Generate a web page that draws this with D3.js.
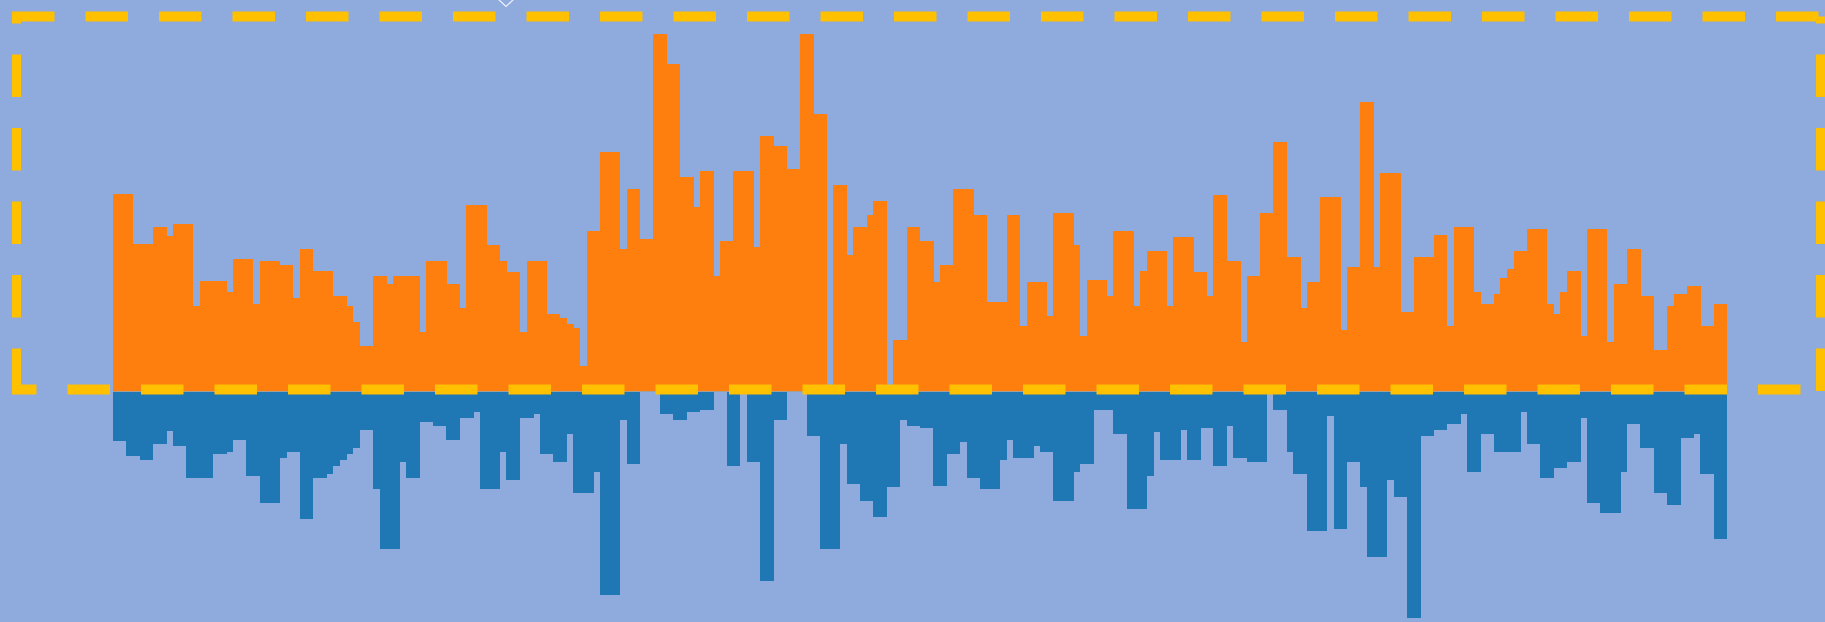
<!DOCTYPE html>
<html>
<head>
<meta charset="utf-8">
<script src="https://cdn.jsdelivr.net/npm/d3@7"></script>
<style>
  html, body { margin: 0; padding: 0; background: #8FAADC; overflow: hidden; }
  svg { display: block; }
</style>
</head>
<body>
<svg id="chart" width="1825" height="622"></svg>
<script>
// ---- data (unit-less magnitudes) ----
const upperSeries = [
  498,498,498,372,372,372,414,414,393,422,
  422,422,216,279,279,279,279,250,335,335,
  335,220,330,330,330,320,320,235,360,360,
  305,305,305,240,240,215,175,115,115,290,
  290,270,290,290,290,290,150,330,330,330,
  270,270,210,470,470,470,370,370,330,300,
  300,150,330,330,330,195,195,185,170,160,
  65,405,405,605,605,605,360,510,510,385,
  385,900,900,825,825,540,540,465,555,555,
  290,380,380,555,555,555,365,645,645,620,
  620,560,560,900,900,700,700,0,520,520,
  345,415,415,445,480,480,0,130,130,415,
  415,380,380,275,320,320,510,510,510,445,
  445,225,225,225,445,445,165,275,275,275,
  190,450,450,450,370,140,280,280,280,240,
  405,405,405,215,305,355,355,355,215,390,
  390,390,300,300,240,495,495,330,330,125,
  290,290,450,450,630,630,340,340,210,275,
  275,490,490,490,155,315,315,730,730,315,
  550,550,550,200,200,340,340,340,395,395,
  165,415,415,415,250,220,220,245,285,310,
  355,355,410,410,410,220,195,250,305,305,
  140,410,410,410,125,270,270,360,360,240,
  240,105,105,215,245,245,265,265,165,165,
  220,220
];
const lowerSeries = [
  125,125,163,163,172,172,133,133,100,137,
  137,217,217,217,217,157,157,152,122,122,
  212,212,282,282,282,167,152,152,322,322,
  217,217,207,187,172,157,142,97,97,247,
  397,397,397,177,217,217,77,77,87,87,
  122,122,67,67,52,247,247,247,152,222,
  222,67,67,57,157,157,177,177,107,257,
  257,257,202,512,512,512,72,182,182,0,
  0,0,57,57,72,72,52,52,47,47,
  0,0,187,187,0,177,177,477,477,72,
  72,0,0,0,112,112,397,397,397,132,
  232,232,277,277,317,317,242,242,72,87,
  87,92,92,237,237,157,157,127,217,217,
  247,247,247,172,122,167,167,167,137,152,
  152,277,277,277,202,182,182,47,47,47,
  107,107,297,297,297,212,102,172,172,172,
  97,172,172,92,92,187,187,87,167,167,
  177,177,177,0,47,47,152,207,207,352,
  352,352,62,347,347,177,177,242,417,417,
  417,222,267,267,572,572,112,112,97,97,
  82,82,57,202,202,107,107,152,152,152,
  152,52,132,132,217,217,192,192,177,177,
  67,282,282,307,307,307,202,82,82,142,
  142,257,257,287,287,117,117,107,207,207,
  372,372
];
const categories = upperSeries.map((_, i) => i + 1);

// ---- layout ----
const W = 1825, H = 622;
const svg = d3.select("#chart");
svg.append("rect").attr("width", W).attr("height", H).attr("fill", "#8FAADC");

const x = d3.scaleBand().domain(categories).range([113, 1727]).padding(0);
const zeroY = 391.5;
const pxPerUnit = 1 / 2.521;
const y = d3.scaleLinear()
  .domain([-600, 900])
  .range([zeroY + 600 * pxPerUnit, zeroY - 900 * pxPerUnit]);

const rows = categories.map((c, i) => ({ c, up: upperSeries[i], down: lowerSeries[i] }));

svg.append("g").selectAll("rect").data(rows).join("rect")
  .attr("x", d => x(d.c))
  .attr("width", x.bandwidth() + 0.4)
  .attr("y", d => y(d.up))
  .attr("height", d => Math.max(0, y(0) - y(d.up) - 0.5))
  .attr("fill", "#FF7F0E")
  .attr("shape-rendering", "crispEdges");

svg.append("g").selectAll("rect").data(rows).join("rect")
  .attr("x", d => x(d.c))
  .attr("width", x.bandwidth() + 0.4)
  .attr("y", y(0) + 0.8)
  .attr("height", d => d.down > 0 ? Math.max(0, y(-d.down) - y(0) - 0.8) : 0)
  .attr("fill", "#1F77B4")
  .attr("shape-rendering", "crispEdges");

// thin baseline
svg.append("line")
  .attr("x1", x.range()[0]).attr("x2", x.range()[1])
  .attr("y1", y(0)).attr("y2", y(0))
  .attr("stroke", "#a3a09a").attr("stroke-width", 1.2);

// dashed frame
const dash = "42.5 31";
const frame = svg.append("g").attr("stroke", "#FFC000").attr("fill", "none").attr("stroke-dasharray", dash);
frame.append("line").attr("x1", 12).attr("x2", W).attr("y1", 16.5).attr("y2", 16.5)
  .attr("stroke-width", 10).attr("stroke-dashoffset", 0);
frame.append("line").attr("x1", 12).attr("x2", W).attr("y1", 389.5).attr("y2", 389.5)
  .attr("stroke-width", 10).attr("stroke-dashoffset", 18);
frame.append("line").attr("x1", 16.5).attr("x2", 16.5).attr("y1", 391).attr("y2", 16.5)
  .attr("stroke-width", 9).attr("stroke-dashoffset", 0);
frame.append("line").attr("x1", 1820.5).attr("x2", 1820.5).attr("y1", 391).attr("y2", 16.5)
  .attr("stroke-width", 9).attr("stroke-dashoffset", 0);

// small marker at top
svg.append("path")
  .attr("d", "M498,-1 L506,6.5 L514,-1")
  .attr("fill", "none").attr("stroke", "#ffffff").attr("stroke-width", 1.2).attr("opacity", 0.85);
</script>
</body>
</html>
